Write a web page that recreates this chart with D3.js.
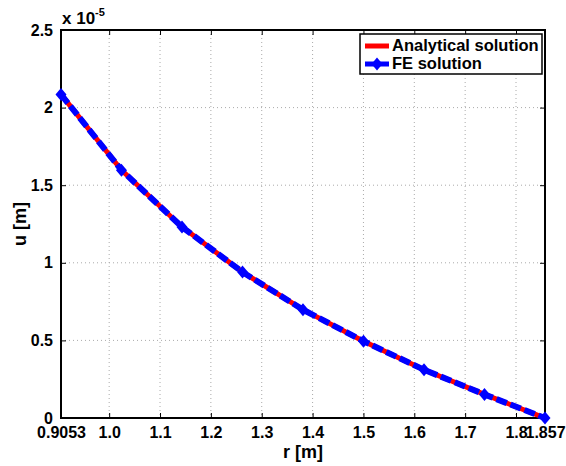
<!DOCTYPE html>
<html>
<head>
<meta charset="utf-8">
<script src="https://cdn.jsdelivr.net/npm/d3@7"></script>
<style>
  body { margin: 0; background: #fff; }
  text { font-family: "Liberation Sans", Arial, sans-serif; font-weight: bold; }
</style>
</head>
<body>
<div id="chart-container"></div>
<script>
// Data (u in units of 1e-5 m)
const rNodes = [0.9053, 1.0242, 1.1432, 1.2622, 1.3811, 1.5001, 1.6191, 1.7380, 1.857];
const uAnalytical = [2.085, 1.597, 1.231, 0.94, 0.698, 0.495, 0.311, 0.152, 0];
const uFE = [2.085, 1.597, 1.231, 0.94, 0.698, 0.495, 0.311, 0.152, 0];
const xTicks = [0.9053, 1.0, 1.1, 1.2, 1.3, 1.4, 1.5, 1.6, 1.7, 1.8, 1.857];
const xTickLabels = ["0.9053", "1.0", "1.1", "1.2", "1.3", "1.4", "1.5", "1.6", "1.7", "1.8", "1.857"];
const yTicks = [0, 0.5, 1, 1.5, 2, 2.5];
const yTickLabels = ["0", "0.5", "1", "1.5", "2", "2.5"];
const seriesNames = ["Analytical solution", "FE solution"];

const W = 566, H = 466;
const margin = { top: 30, right: 21, bottom: 48, left: 61 };
const width = W - margin.left - margin.right;
const height = H - margin.top - margin.bottom;

const svgRoot = d3.select("#chart-container")
    .append("svg")
    .attr("width", W)
    .attr("height", H);

const svg = svgRoot.append("g")
    .attr("transform", `translate(${margin.left},${margin.top})`);

const xScale = d3.scaleLinear().domain([0.9053, 1.857]).range([0, width]);
const yScale = d3.scaleLinear().domain([0, 2.5]).range([height, 0]);

// Grid (dotted)
svg.append("g")
    .selectAll("line")
    .data(xTicks.slice(1, -1))
    .enter().append("line")
    .attr("x1", d => xScale(d)).attr("x2", d => xScale(d))
    .attr("y1", 0).attr("y2", height)
    .attr("stroke", "#aaa").attr("stroke-width", 1)
    .attr("stroke-dasharray", "1,3");

svg.append("g")
    .selectAll("line")
    .data(yTicks.slice(1, -1))
    .enter().append("line")
    .attr("y1", d => yScale(d)).attr("y2", d => yScale(d))
    .attr("x1", 0).attr("x2", width)
    .attr("stroke", "#aaa").attr("stroke-width", 1)
    .attr("stroke-dasharray", "1,3");

// Axes with inward ticks
const xAxis = d3.axisBottom(xScale)
    .tickValues(xTicks)
    .tickFormat((d, i) => xTickLabels[i])
    .tickSizeInner(-5).tickSizeOuter(0).tickPadding(9);

const gx = svg.append("g")
    .attr("transform", `translate(0,${height})`)
    .call(xAxis);
gx.selectAll("text").style("font-size", "16px").attr("fill", "#000");

const yAxis = d3.axisLeft(yScale)
    .tickValues(yTicks)
    .tickFormat((d, i) => yTickLabels[i])
    .tickSizeInner(-5).tickSizeOuter(0).tickPadding(8);

const gy = svg.append("g").call(yAxis);
gy.selectAll("text").style("font-size", "16px").attr("fill", "#000");

// top and right ticks
svg.append("g")
    .call(d3.axisTop(xScale).tickValues(xTicks).tickFormat("").tickSizeInner(-5).tickSizeOuter(0));
svg.append("g")
    .attr("transform", `translate(${width},0)`)
    .call(d3.axisRight(yScale).tickValues(yTicks).tickFormat("").tickSizeInner(-5).tickSizeOuter(0));

svg.selectAll(".domain").remove();
svg.selectAll(".tick line").attr("stroke", "#000").attr("stroke-width", 1);

// Frame
svg.append("rect")
    .attr("width", width).attr("height", height)
    .attr("fill", "none").attr("stroke", "#000").attr("stroke-width", 2);

// Lines
const dataA = rNodes.map((r, i) => ({ r: r, u: uAnalytical[i] }));
const dataFE = rNodes.map((r, i) => ({ r: r, u: uFE[i] }));

const line = d3.line().x(d => xScale(d.r)).y(d => yScale(d.u));

svg.append("path")
    .datum(dataA)
    .attr("fill", "none")
    .attr("stroke", "#ff0000")
    .attr("stroke-width", 5)
    .attr("d", line);

svg.append("path")
    .datum(dataFE)
    .attr("fill", "none")
    .attr("stroke", "#0000ff")
    .attr("stroke-width", 6)
    .attr("stroke-dasharray", "11,4")
    .attr("d", line);

// MATLAB-like diamond marker
const diamondPath = "M0,-6.5L5.5,0L0,6.5L-5.5,0Z";
svg.selectAll(".dot-fe")
    .data(dataFE)
    .enter().append("path")
    .attr("class", "dot-fe")
    .attr("transform", d => `translate(${xScale(d.r)},${yScale(d.u)})`)
    .attr("d", diamondPath)
    .attr("fill", "#0000ff");

// Exponent label
const expLabel = svg.append("text")
    .attr("x", 1).attr("y", -6)
    .style("font-size", "17px");
expLabel.append("tspan").text("x 10");
expLabel.append("tspan").attr("dy", -8).style("font-size", "11px").text("-5");

// Legend
const legend = svg.append("g")
    .attr("transform", `translate(${width - 185},4)`);
legend.append("rect")
    .attr("width", 182).attr("height", 40)
    .attr("fill", "#fff").attr("stroke", "#000").attr("stroke-width", 1.5);

legend.append("line")
    .attr("x1", 5).attr("x2", 29).attr("y1", 12).attr("y2", 12)
    .attr("stroke", "#ff0000").attr("stroke-width", 5);
legend.append("line")
    .attr("x1", 5).attr("x2", 29).attr("y1", 30).attr("y2", 30)
    .attr("stroke", "#0000ff").attr("stroke-width", 5)
    .attr("stroke-dasharray", "10,4");
legend.append("path")
    .attr("transform", "translate(17,30)")
    .attr("d", diamondPath)
    .attr("fill", "#0000ff");

legend.selectAll(".leg-text")
    .data(seriesNames)
    .enter().append("text")
    .attr("class", "leg-text")
    .attr("x", 32)
    .attr("y", (d, i) => 17 + i * 18)
    .style("font-size", "16.5px")
    .text(d => d);

// Axis labels
svg.append("text")
    .attr("x", width / 2)
    .attr("y", height + 40)
    .attr("text-anchor", "middle")
    .style("font-size", "18px")
    .text("r [m]");

svg.append("text")
    .attr("transform", "rotate(-90)")
    .attr("x", -height / 2)
    .attr("y", -35)
    .attr("text-anchor", "middle")
    .style("font-size", "18px")
    .text("u [m]");
</script>
</body>
</html>
